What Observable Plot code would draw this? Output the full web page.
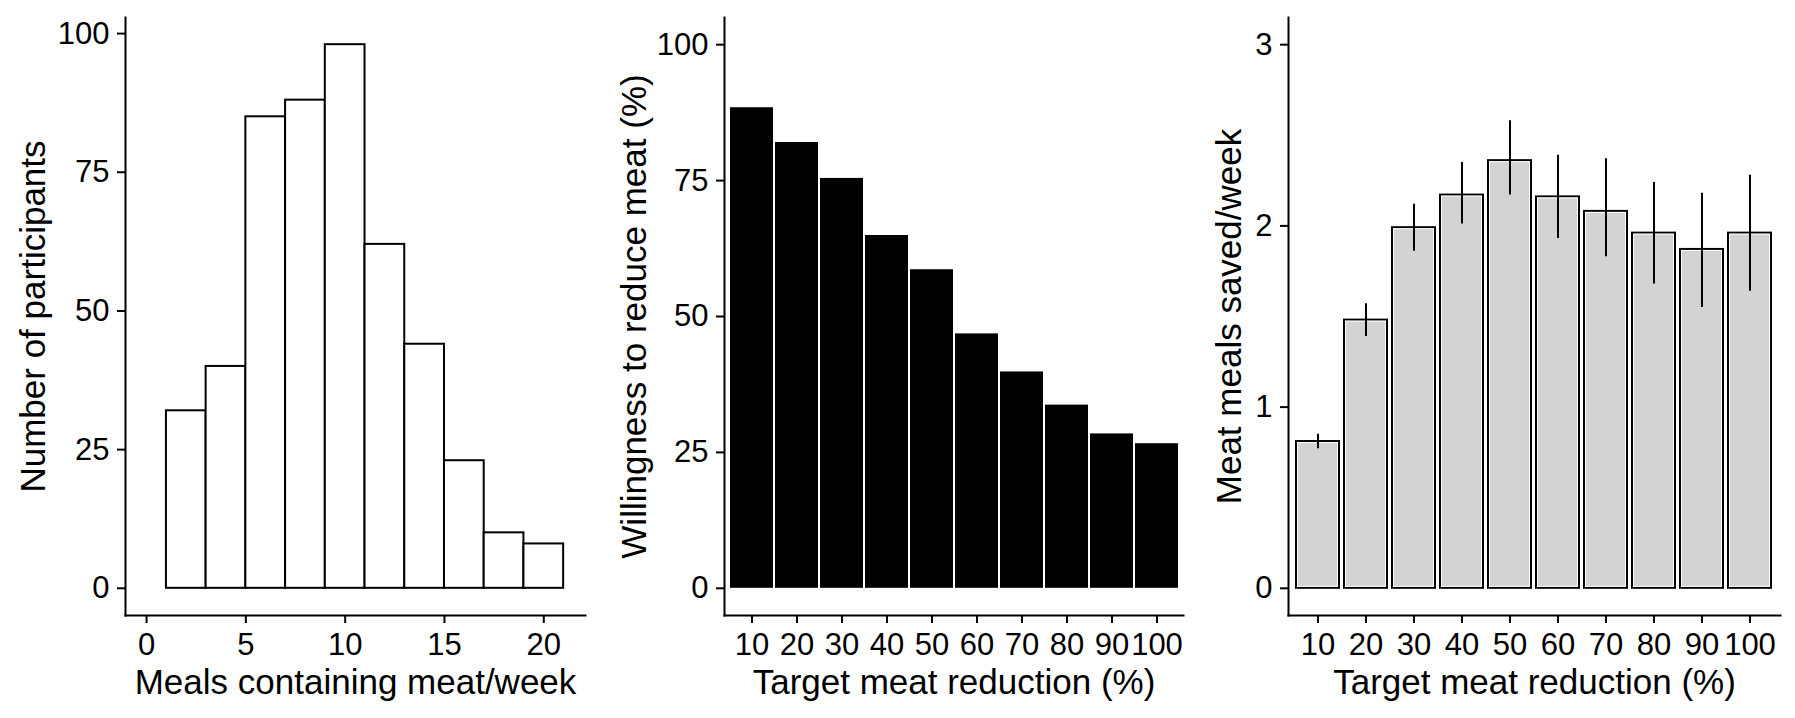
<!DOCTYPE html>
<html>
<head>
<meta charset="utf-8">
<script src="https://cdn.jsdelivr.net/npm/d3@7"></script>
<script src="https://cdn.jsdelivr.net/npm/@observablehq/plot@0.6"></script>
<style>
  html, body { margin: 0; padding: 0; background: #fff; }
  #c { position: relative; width: 1795px; height: 718px; background: #fff; }
  #c > div { position: absolute; top: 0; }
  svg { overflow: visible; }
</style>
</head>
<body>
<div id="c"></div>
<script>
// Panel 1: histogram of meals containing meat per week
const histLo = [1, 3, 5, 7, 9, 11, 13, 15, 17, 19];
const histHi = [3, 5, 7, 9, 11, 13, 15, 17, 19, 21];
const histCount = [32, 40, 85, 88, 98, 62, 44, 23, 10, 8];
const histXTicks = [0, 5, 10, 15, 20];
const histYTicks = [0, 25, 50, 75, 100];

// Panels 2 & 3: target meat reduction categories
const targets = ["10", "20", "30", "40", "50", "60", "70", "80", "90", "100"];
const willingness = [88.4, 82.0, 75.4, 64.9, 58.6, 46.8, 39.8, 33.7, 28.4, 26.6];
const willYTicks = [0, 25, 50, 75, 100];

const saved = [0.81, 1.48, 1.99, 2.17, 2.36, 2.16, 2.08, 1.96, 1.87, 1.96];
const savedLo = [0.77, 1.39, 1.86, 2.01, 2.17, 1.93, 1.83, 1.68, 1.55, 1.64];
const savedHi = [0.85, 1.57, 2.12, 2.35, 2.58, 2.39, 2.37, 2.24, 2.18, 2.28];
const savedYTicks = [0, 1, 2, 3];

const FONT = "'Liberation Sans', Arial, Helvetica, sans-serif";
const TICK_FS = 31, TITLE_FS = 35;
const H = 718, MT = 17, MB = 103;

const style = {fontFamily: FONT, fontSize: TICK_FS + "px", color: "#000", background: "transparent", overflow: "visible"};

function axes(xTicks, yTicks, xTitle, yTitle, yTitleOffset) {
  return [
    Plot.frame({anchor: "left", stroke: "#000", strokeWidth: 2}),
    Plot.frame({anchor: "bottom", stroke: "#000", strokeWidth: 2}),
    Plot.axisX({ticks: xTicks, tickSize: 8, tickPadding: 9, strokeWidth: 2, label: null, fill: "#000", fontSize: TICK_FS}),
    Plot.axisY({ticks: yTicks, tickSize: 8, tickPadding: 8, strokeWidth: 2, label: null, fill: "#000", fontSize: TICK_FS, tickFormat: d => String(d)}),
    Plot.text([xTitle], {text: d => d, frameAnchor: "bottom", dy: 78, lineAnchor: "bottom", textAnchor: "middle", fontSize: TITLE_FS, fill: "#000"}),
    Plot.text([yTitle], {text: d => d, frameAnchor: "left", dx: -yTitleOffset, rotate: -90, lineAnchor: "bottom", textAnchor: "middle", fontSize: TITLE_FS, fill: "#000"})
  ];
}

function place(el, left) {
  const d = document.createElement("div");
  d.style.left = left + "px";
  d.appendChild(el);
  document.getElementById("c").appendChild(d);
}

// Panel 1
const p1 = Plot.plot({
  width: 598, height: H, marginLeft: 125, marginRight: 13, marginTop: MT, marginBottom: MB,
  style,
  x: {domain: [-1.06, 22.1]},
  y: {domain: [-4.9, 102.9]},
  marks: [
    Plot.rect(histCount, {x1: (d, i) => histLo[i], x2: (d, i) => histHi[i], y1: 0, y2: d => d, fill: "#fff", stroke: "#000", strokeWidth: 2}),
    ...axes(histXTicks, histYTicks, "Meals containing meat/week", "Number of participants", 81)
  ]
});
place(p1, 0);

// Panel 2
const p2 = Plot.plot({
  width: 597, height: H, marginLeft: 126, marginRight: 12, marginTop: MT, marginBottom: MB,
  style,
  x: {type: "band", domain: targets, paddingInner: 0.045, paddingOuter: 0.1225},
  y: {domain: [-5, 105]},
  marks: [
    Plot.barY(willingness, {x: (d, i) => targets[i], y1: 0, y2: d => d, fill: "#000"}),
    ...axes(targets, willYTicks, "Target meat reduction (%)", "Willingness to reduce meat (%)", 79)
  ]
});
place(p2, 598);

// Panel 3
const p3 = Plot.plot({
  width: 600, height: H, marginLeft: 93, marginRight: 15, marginTop: MT, marginBottom: MB,
  style,
  x: {type: "band", domain: targets, paddingInner: 0.1, paddingOuter: 0.15},
  y: {domain: [-0.15, 3.15]},
  marks: [
    Plot.barY(saved, {x: (d, i) => targets[i], y1: 0, y2: d => d, fill: "#d3d3d3", stroke: "#000", strokeWidth: 2}),
    Plot.barY(saved, {x: (d, i) => targets[i], y1: 0, y2: d => d, fill: "none", stroke: "#fff", strokeWidth: 1, inset: 1.5}),
    Plot.ruleX(saved, {x: (d, i) => targets[i], y1: (d, i) => savedLo[i], y2: (d, i) => savedHi[i], stroke: "#000", strokeWidth: 2}),
    ...axes(targets, savedYTicks, "Target meat reduction (%)", "Meat meals saved/week", 48)
  ]
});
place(p3, 1195);
</script>
</body>
</html>
